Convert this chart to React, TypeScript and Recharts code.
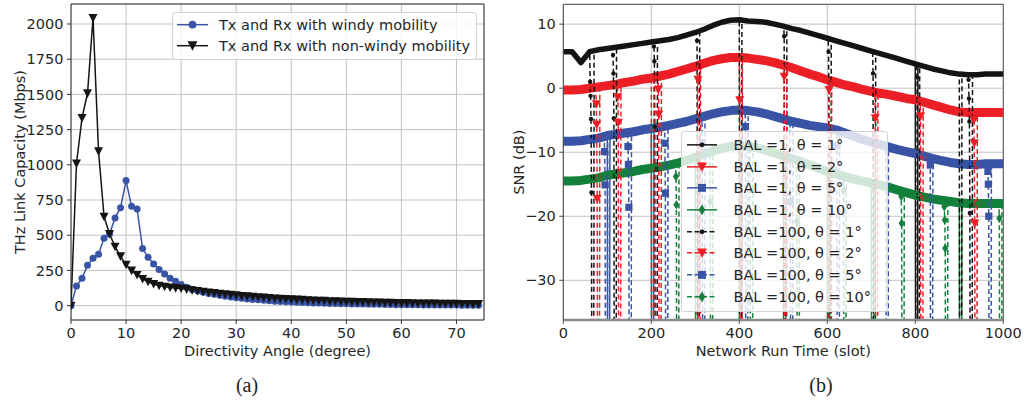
import React from "react";
import {
  LineChart,
  Line,
  XAxis,
  YAxis,
  CartesianGrid,
  Legend,
  ReferenceLine,
} from "recharts";

const FONT = "'DejaVu Sans', Verdana, sans-serif";
const INK = "#262626";
const BLACK = "#141414";
const RED = "#ec1f26";
const BLUE = "#3a54a5";
const GREEN = "#13803c";

// ---------- (a) capacity vs directivity angle ----------
const angles = [
  0, 1, 2, 3, 4, 5, 6, 7, 8, 9, 10, 11, 12, 13, 14, 15, 16, 17, 18, 19, 20, 21,
  22, 23, 24, 25, 26, 27, 28, 29, 30, 31, 32, 33, 34, 35, 36, 37, 38, 39, 40,
  41, 42, 43, 44, 45, 46, 47, 48, 49, 50, 51, 52, 53, 54, 55, 56, 57, 58, 59,
  60, 61, 62, 63, 64, 65, 66, 67, 68, 69, 70, 71, 72, 73, 74,
];
const windyCapacity = [
  0, 140, 194, 287, 336, 365, 478, 509, 623, 696, 888, 705, 687, 405, 343, 296,
  256, 225, 194, 173, 150, 130, 115, 104, 95, 87, 80, 73, 67, 61, 56, 52, 48,
  44, 41, 38, 35, 32, 30, 28, 26, 24, 22, 21, 19, 18, 17, 16, 15, 14, 13, 12,
  11, 11, 10, 9, 9, 8, 8, 7, 7, 6, 6, 6, 5, 5, 5, 4, 4, 4, 4, 3, 3, 3, 3,
];
const nonWindyCapacity = [
  0, 1010, 1333, 1508, 2043, 1096, 632, 509, 419, 350, 291, 249, 218, 190, 170,
  154, 142, 135, 129, 125, 122, 116, 110, 104, 99, 94, 89, 85, 81, 77, 73, 69,
  66, 63, 60, 57, 54, 51, 49, 47, 45, 43, 41, 39, 37, 35, 34, 32, 31, 30, 28,
  27, 26, 25, 24, 23, 22, 21, 20, 19, 18, 18, 17, 16, 16, 15, 15, 14, 14, 13,
  13, 12, 12, 11, 11,
];
const angleTicks = [0, 10, 20, 30, 40, 50, 60, 70];
const capacityTicks = [0, 250, 500, 750, 1000, 1250, 1500, 1750, 2000];

// ---------- (b) SNR vs network run time ----------
const slots = [
  0, 20, 40, 60, 80, 100, 120, 140, 160, 180, 200, 220, 240, 260, 280, 300, 320,
  340, 360, 380, 400, 420, 440, 460, 480, 500, 520, 540, 560, 580, 600, 620,
  640, 660, 680, 700, 720, 740, 760, 780, 800, 820, 840, 860, 880, 900, 920,
  940, 960, 980, 1000,
];
const snrTheta1 = [
  5.7, 5.7, 4.0, 5.7, 6.0, 6.2, 6.4, 6.6, 6.8, 7.0, 7.2, 7.4, 7.6, 7.9, 8.3,
  8.7, 9.2, 9.8, 10.3, 10.6, 10.7, 10.5, 10.4, 10.3, 10.0, 9.7, 9.3, 9.0, 8.6,
  8.2, 7.8, 7.4, 7.0, 6.6, 6.2, 5.8, 5.4, 5.0, 4.6, 4.2, 3.8, 3.4, 3.0, 2.7,
  2.4, 2.2, 2.1, 2.1, 2.2, 2.2, 2.2,
];
const snrTheta2 = [
  -0.3, -0.3, -0.2, 0.0, 0.2, 0.4, 0.6, 0.9, 1.1, 1.4, 1.6, 1.9, 2.2, 2.6, 3.0,
  3.4, 3.9, 4.3, 4.6, 4.8, 4.8, 4.7, 4.5, 4.3, 4.0, 3.6, 3.2, 2.7, 2.2, 1.8,
  1.3, 0.9, 0.5, 0.2, -0.2, -0.5, -0.8, -1.0, -1.3, -1.6, -1.8, -2.2, -2.6,
  -3.0, -3.4, -3.7, -3.8, -3.8, -3.8, -3.8, -3.8,
];
const snrTheta5 = [
  -8.3, -8.3, -8.2, -8.0, -7.8, -7.4, -7.2, -7.0, -6.8, -6.5, -6.3, -6.1, -5.8,
  -5.5, -5.2, -4.8, -4.4, -4.0, -3.7, -3.5, -3.4, -3.5, -3.7, -4.0, -4.4, -4.8,
  -5.2, -5.5, -5.8, -6.0, -6.2, -6.5, -7.0, -7.5, -8.0, -8.4, -8.8, -9.2, -9.6,
  -9.9, -10.2, -10.6, -11.0, -11.3, -11.6, -11.8, -11.9, -11.9, -11.8, -11.8,
  -11.8,
];
const snrTheta10 = [
  -14.5, -14.5, -14.4, -14.2, -14.0, -13.6, -13.4, -13.2, -13.0, -12.7, -12.5,
  -12.3, -12.0, -11.7, -11.3, -10.8, -10.3, -9.8, -9.4, -9.1, -9.0, -9.1, -9.3,
  -9.7, -10.1, -10.6, -11.0, -11.5, -12.0, -12.5, -13.0, -13.4, -13.8, -14.2,
  -14.5, -14.8, -15.1, -15.5, -15.9, -16.3, -16.7, -17.0, -17.3, -17.5, -17.7,
  -17.9, -18.0, -18.0, -18.0, -18.0, -18.0,
];

// outage drops: [slot, snr before the drop, ...snr samples on the way down]
const bal1Theta1Drops = [[800, 3.8]];
const bal1Theta2Drops: number[][] = [];
const bal1Theta5Drops = [[100, -7.4], [200, -6.3]];
const bal1Theta10Drops = [
  [300, -10.8], [400, -9.0], [500, -10.6], [600, -13.0], [700, -14.8], [900, -17.9],
];
const bal100Theta1Drops = [
  [60, 5.7, 1.0, -1.2, -4.8, -16.3],
  [112, 6.3, 5.2, 2.3, -4.7],
  [205, 7.2, 6.5, 4.2, -6.0],
  [303, 8.7, 7.4],
  [400, 10.7],
  [501, 9.7, 8.1],
  [602, 7.8, 5.7],
  [703, 5.8, 2.3],
  [803, 3.8, 1.7],
  [900, 2.2],
  [920, 2.1, 1.3, -1.6, -5.2, -19.5],
];
const bal100Theta2Drops = [
  [74, 0.1, -2.5, -5.7, -17.3],
  [123, 0.6, -1.4, -5.4],
  [200, 1.6],
  [215, 1.8, -0.2, -4.1],
  [305, 3.5, 1.3],
  [400, 4.8, -1.9],
  [501, 3.6, 1.8],
  [603, 1.2, -0.3],
  [708, -0.6, -4.7],
  [811, -2.0, -4.4],
  [932, -3.8, -5.0, -8.6, -21.1],
];
const bal100Theta5Drops = [
  [93, -7.5, -9.9, -15.1],
  [146, -7.0, -9.1, -11.9, -18.6],
  [230, -6.0, -8.6, -16.4],
  [315, -4.5, -8.5],
  [413, -3.4, -6.0],
  [515, -5.1, -17.7],
  [621, -6.5, -9.0],
  [733, -9.1],
  [833, -10.9, -12.0],
  [964, -11.8, -13.0, -15.0, -20.0],
];
const bal100Theta10Drops = [
  [255, -11.8, -13.8, -18.2],
  [333, -10.0, -17.7],
  [424, -9.1, -33.0],
  [530, -11.2, -20.8],
  [636, -13.7, -16.0],
  [767, -16.0, -16.9, -21.1],
  [865, -17.5, -18.5, -20.6, -25.0],
  [990, -18.0, -20.3],
];
const slotTicks = [0, 200, 400, 600, 800, 1000];
const snrTicks = [-30, -20, -10, 0, 10];
const OFF_CHART = -60;

type MarkerKind = "circle" | "dot" | "triangle" | "square" | "diamond";
type SnrPoint = { slot: number; snr: number; mark: boolean };

function curveRows(curve: number[]): SnrPoint[] {
  return slots.map((slot, i) => ({ slot, snr: curve[i], mark: false }));
}

function withDrops(curve: number[], drops: number[][]): SnrPoint[] {
  const spans = drops.map((d) => [d[0], d[0] + d.length + 4]);
  const pts: SnrPoint[] = [];
  slots.forEach((slot, i) => {
    if (!spans.some(([a, b]) => slot >= a && slot <= b))
      pts.push({ slot, snr: curve[i], mark: false });
  });
  drops.forEach(([at, top, ...marks]) => {
    const n = marks.length;
    pts.push({ slot: at, snr: top, mark: false });
    marks.forEach((m, j) => pts.push({ slot: at + 1 + j, snr: m, mark: true }));
    pts.push({ slot: at + n + 1, snr: OFF_CHART, mark: false });
    pts.push({ slot: at + n + 5, snr: OFF_CHART, mark: false });
    pts.push({ slot: at + n + 6, snr: top, mark: false });
  });
  return pts.sort((a, b) => a.slot - b.slot);
}

function MarkerShape({ kind, x, y, color, scale = 1 }: any) {
  if (kind === "circle") return <circle cx={x} cy={y} r={3.5 * scale} fill={color} />;
  if (kind === "dot") return <circle cx={x} cy={y} r={2.2 * scale} fill={color} />;
  if (kind === "triangle") {
    const w = 4.5 * scale;
    const h = 4 * scale;
    return (
      <polygon
        points={`${x - w},${y - h} ${x + w},${y - h} ${x},${y + h * 1.15}`}
        fill={color}
      />
    );
  }
  if (kind === "square") {
    const s = 3.6 * scale;
    return <rect x={x - s} y={y - s} width={2 * s} height={2 * s} fill={color} />;
  }
  const w = 3 * scale;
  const h = 4.8 * scale;
  return (
    <polygon points={`${x},${y - h} ${x + w},${y} ${x},${y + h} ${x - w},${y}`} fill={color} />
  );
}

const allDots = (kind: MarkerKind, color: string) => (p: any) =>
  p.cx == null ? (
    <g key={p.index} />
  ) : (
    <MarkerShape key={p.index} kind={kind} x={p.cx} y={p.cy} color={color} />
  );

const markDots = (kind: MarkerKind, color: string) => (p: any) =>
  p.cx == null || !p.payload?.mark ? (
    <g key={p.index} />
  ) : (
    <MarkerShape key={p.index} kind={kind} x={p.cx} y={p.cy} color={color} />
  );

type LegendItem = { name: string; color: string; dashed: boolean; marker: MarkerKind };

function LegendBox({ items, width, rowHeight, sampleWidth, gap, padLeft, padTop }: any) {
  return (
    <div
      style={{
        width,
        boxSizing: "border-box",
        background: "rgba(255,255,255,0.8)",
        border: "1px solid #d4d4d4",
        borderRadius: 3,
        padding: `${padTop}px 0 ${padTop + 1}px ${padLeft}px`,
      }}
    >
      {items.map((it: LegendItem) => (
        <div key={it.name} style={{ display: "flex", alignItems: "center", height: rowHeight }}>
          <svg width={sampleWidth} height={rowHeight} style={{ flex: "none" }}>
            <line
              x1={0}
              x2={sampleWidth}
              y1={rowHeight / 2}
              y2={rowHeight / 2}
              stroke={it.color}
              strokeWidth={1.5}
              strokeDasharray={it.dashed ? "5 2.5" : undefined}
            />
            <MarkerShape kind={it.marker} x={sampleWidth / 2} y={rowHeight / 2} color={it.color} scale={1.1} />
          </svg>
          <span
            style={{
              marginLeft: gap,
              fontFamily: FONT,
              fontSize: 14.5,
              color: INK,
              whiteSpace: "nowrap",
            }}
          >
            {it.name}
          </span>
        </div>
      ))}
    </div>
  );
}

const tickStyle = { fill: INK, fontSize: 14.5, fontFamily: FONT };
const labelStyle = { fill: INK, fontSize: 14.5, fontFamily: FONT };
const minusFmt = (v: number) => (v < 0 ? `\u2212${-v}` : `${v}`);

function CapacityChart() {
  const rows = angles.map((angle, i) => ({
    angle,
    windy: windyCapacity[i],
    nonWindy: nonWindyCapacity[i],
  }));
  const legendItems: LegendItem[] = [
    { name: "Tx and Rx with windy mobility", color: BLUE, dashed: false, marker: "circle" },
    { name: "Tx and Rx with non-windy mobility", color: BLACK, dashed: false, marker: "triangle" },
  ];
  return (
    <LineChart width={490} height={403} data={rows} margin={{ top: 4, right: 6, bottom: 33, left: 0 }}>
      <CartesianGrid stroke="#c2c2c2" />
      <XAxis
        type="number"
        dataKey="angle"
        domain={[0, 75]}
        ticks={angleTicks}
        allowDataOverflow
        height={50}
        tickSize={4}
        tickMargin={4}
        tick={tickStyle}
        axisLine={{ stroke: "#333" }}
        tickLine={{ stroke: "#333" }}
        label={{ value: "Directivity Angle (degree)", position: "insideBottom", offset: 14, ...labelStyle }}
      />
      <YAxis
        type="number"
        domain={[-102, 2142]}
        ticks={capacityTicks}
        allowDataOverflow
        width={71}
        tickSize={4}
        tickMargin={3.5}
        tick={tickStyle}
        axisLine={{ stroke: "#333" }}
        tickLine={{ stroke: "#333" }}
        label={{
          value: "THz Link Capacity (Mbps)",
          angle: -90,
          position: "insideLeft",
          offset: 20,
          textAnchor: "middle",
          style: { textAnchor: "middle" },
          ...labelStyle,
        }}
      />
      <ReferenceLine y={2142} stroke="#333" />
      <ReferenceLine x={75} stroke="#333" />
      <Line
        dataKey="windy"
        stroke={BLUE}
        strokeWidth={1.5}
        dot={allDots("circle", BLUE)}
        isAnimationActive={false}
      />
      <Line
        dataKey="nonWindy"
        stroke={BLACK}
        strokeWidth={1.5}
        dot={allDots("triangle", BLACK)}
        isAnimationActive={false}
      />
      <Legend
        layout="vertical"
        verticalAlign="middle"
        align="center"
        wrapperStyle={{ left: 172, top: 12, width: 305, height: 46 }}
        content={() => (
          <LegendBox items={legendItems} width={305} rowHeight={21.4} sampleWidth={31} gap={11} padLeft={4} padTop={1} />
        )}
      />
    </LineChart>
  );
}

function SnrChart() {
  const bal1 = [
    { name: "BAL =1, θ = 1°", color: BLACK, curve: snrTheta1, drops: bal1Theta1Drops, band: 5.5, marker: "dot" },
    { name: "BAL =1, θ = 2°", color: RED, curve: snrTheta2, drops: bal1Theta2Drops, band: 9, marker: "triangle" },
    { name: "BAL =1, θ = 5°", color: BLUE, curve: snrTheta5, drops: bal1Theta5Drops, band: 9, marker: "square" },
    { name: "BAL =1, θ = 10°", color: GREEN, curve: snrTheta10, drops: bal1Theta10Drops, band: 9, marker: "diamond" },
  ];
  const bal100 = [
    { name: "BAL =100, θ = 1°", color: BLACK, curve: snrTheta1, drops: bal100Theta1Drops, marker: "dot" },
    { name: "BAL =100, θ = 2°", color: RED, curve: snrTheta2, drops: bal100Theta2Drops, marker: "triangle" },
    { name: "BAL =100, θ = 5°", color: BLUE, curve: snrTheta5, drops: bal100Theta5Drops, marker: "square" },
    { name: "BAL =100, θ = 10°", color: GREEN, curve: snrTheta10, drops: bal100Theta10Drops, marker: "diamond" },
  ];
  const legendItems: LegendItem[] = [
    ...bal1.map((s) => ({ name: s.name, color: s.color, dashed: false, marker: s.marker as MarkerKind })),
    ...bal100.map((s) => ({ name: s.name, color: s.color, dashed: true, marker: s.marker as MarkerKind })),
  ];
  return (
    <LineChart width={524} height={403} margin={{ top: 4.3, right: 20.7, bottom: 33, left: 0 }}>
      <CartesianGrid stroke="#c2c2c2" />
      <XAxis
        type="number"
        dataKey="slot"
        domain={[0, 1000]}
        ticks={slotTicks}
        allowDataOverflow
        height={50}
        tickSize={4}
        tickMargin={4}
        tick={tickStyle}
        axisLine={{ stroke: "#8a8a8a", strokeWidth: 2.5 }}
        tickLine={{ stroke: "#555" }}
        label={{ value: "Network Run Time (slot)", position: "insideBottom", offset: 14, ...labelStyle }}
      />
      <YAxis
        type="number"
        domain={[-36.2, 13.1]}
        ticks={snrTicks}
        allowDataOverflow
        width={63.3}
        tickSize={4}
        tickMargin={3.5}
        tick={tickStyle}
        tickFormatter={minusFmt}
        axisLine={{ stroke: "#444" }}
        tickLine={{ stroke: "#444" }}
        label={{
          value: "SNR (dB)",
          angle: -90,
          position: "insideLeft",
          offset: 19,
          textAnchor: "middle",
          style: { textAnchor: "middle" },
          ...labelStyle,
        }}
      />
      <ReferenceLine y={13.1} stroke="#555" />
      <ReferenceLine x={1000} stroke="#555" />
      {bal1.map((s) => [
        <Line
          key={s.name + "-band"}
          data={curveRows(s.curve)}
          dataKey="snr"
          stroke={s.color}
          strokeWidth={s.band}
          strokeLinejoin="round"
          dot={false}
          legendType="none"
          isAnimationActive={false}
        />,
        <Line
          key={s.name}
          name={s.name}
          data={withDrops(s.curve, s.drops)}
          dataKey="snr"
          stroke={s.color}
          strokeWidth={1.5}
          dot={false}
          isAnimationActive={false}
        />,
      ])}
      {bal100.map((s) => (
        <Line
          key={s.name}
          name={s.name}
          data={withDrops(s.curve, s.drops)}
          dataKey="snr"
          stroke={s.color}
          strokeWidth={1.5}
          strokeDasharray="5 3"
          dot={markDots(s.marker as MarkerKind, s.color)}
          isAnimationActive={false}
        />
      ))}
      <Legend
        layout="vertical"
        verticalAlign="middle"
        align="center"
        wrapperStyle={{ left: 181, top: 131, width: 207, height: 181 }}
        content={() => (
          <LegendBox items={legendItems} width={207} rowHeight={21.7} sampleWidth={30} gap={16.5} padLeft={5} padTop={2} />
        )}
      />
    </LineChart>
  );
}

export default function App() {
  const caption: React.CSSProperties = {
    position: "absolute",
    top: 374,
    fontFamily: "'Liberation Serif', 'Times New Roman', serif",
    fontSize: 20,
    color: "#222",
    transform: "translateX(-50%)",
  };
  return (
    <div
      style={{
        position: "absolute",
        left: 0,
        top: 0,
        width: 1024,
        height: 403,
        background: "#fff",
        overflow: "hidden",
      }}
    >
      <div style={{ position: "absolute", left: 0, top: 0 }}>
        <CapacityChart />
      </div>
      <div style={{ position: "absolute", left: 500, top: 0 }}>
        <SnrChart />
      </div>
      <div style={{ ...caption, left: 247 }}>(a)</div>
      <div style={{ ...caption, left: 821 }}>(b)</div>
    </div>
  );
}
